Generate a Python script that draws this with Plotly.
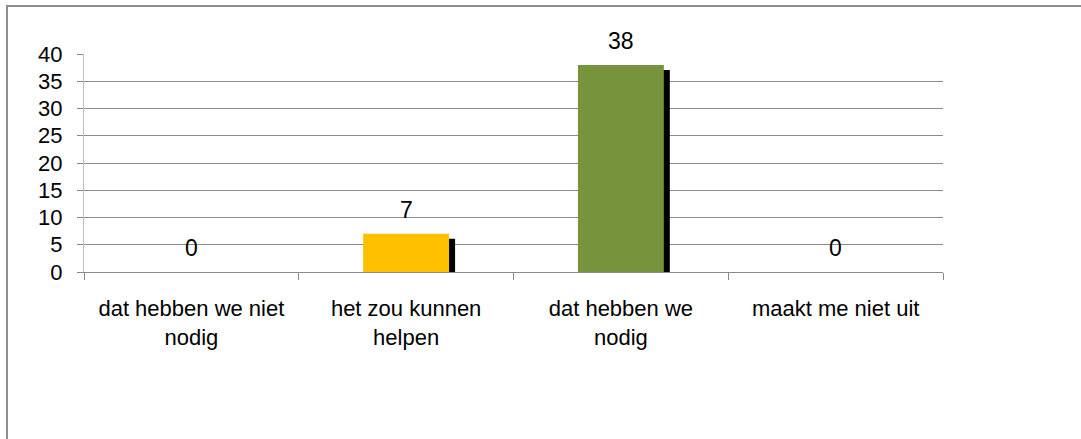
import plotly.graph_objects as go

categories = ["dat hebben we niet nodig", "het zou kunnen helpen", "dat hebben we nodig", "maakt me niet uit"]
tick_labels = ["dat hebben we niet<br>nodig", "het zou kunnen<br>helpen", "dat hebben we<br>nodig", "maakt me niet uit"]
values = [0, 7, 38, 0]
bar_colors = ["#FFC000", "#FFC000", "#77933C", "#FFC000"]
y_ticks = [0, 5, 10, 15, 20, 25, 30, 35, 40]

FONT = "Liberation Sans, Arial, sans-serif"
W, H = 1081, 439
L, R, T, B = 84, 138, 54, 167
pw, ph = W - L - R, H - T - B

bar_w = 0.4
shadow_dx = 6 / (pw / 4)          # pixel offset expressed in category units
shadow_dy = 5 / (ph / 40)         # pixel offset expressed in value units
shadow_vals = [max(v - shadow_dy, 0) for v in values]

fig = go.Figure()
fig.add_trace(go.Bar(
    x=categories, y=shadow_vals, width=bar_w, offset=-bar_w / 2 + shadow_dx,
    marker=dict(color="black", line=dict(width=0)), hoverinfo="skip", showlegend=False,
))
fig.add_trace(go.Bar(
    x=categories, y=values, width=bar_w, offset=-bar_w / 2,
    marker=dict(color=bar_colors, line=dict(width=0)), showlegend=False,
))

for c, v in zip(categories, values):
    fig.add_annotation(x=c, y=v, text=str(v), showarrow=False, yanchor="middle",
                       yshift=24, font=dict(family=FONT, size=23, color="black"))

# outer chart border
fig.add_shape(type="rect", xref="paper", yref="paper",
              x0=(7 - L) / pw, x1=(W + 10 - L) / pw,
              y0=(H - B - (H + 10)) / ph, y1=(H - B - 6) / ph,
              line=dict(color="#8f8f8f", width=2), fillcolor="rgba(0,0,0,0)", layer="below")

fig.update_layout(
    width=W, height=H,
    margin=dict(l=L, r=R, t=T, b=B),
    paper_bgcolor="white", plot_bgcolor="white",
    barmode="overlay",
    font=dict(family=FONT, size=22, color="black"),
    xaxis=dict(
        type="category", categoryorder="array", categoryarray=categories,
        tickmode="array", tickvals=categories, ticktext=tick_labels,
        range=[-0.5, 3.5], tickson="boundaries", ticks="outside", ticklen=7,
        tickcolor="#8a8a8a", showline=True, linecolor="#8a8a8a", linewidth=1,
        showgrid=False, ticklabelstandoff=17,
        tickfont=dict(family=FONT, size=22, color="black"),
    ),
    yaxis=dict(
        range=[0, 40], tickvals=y_ticks, ticks="outside", ticklen=6,
        tickcolor="#8a8a8a", showline=True, linecolor="#bdbdbd", linewidth=1,
        showgrid=True, gridcolor="#8a8a8a", gridwidth=1, zeroline=False,
        tickfont=dict(family=FONT, size=22, color="black"), ticklabelstandoff=10,
    ),
)

fig.write_html("out.html", config={"displayModeBar": False},
               post_script="document.body.style.margin='0';")
